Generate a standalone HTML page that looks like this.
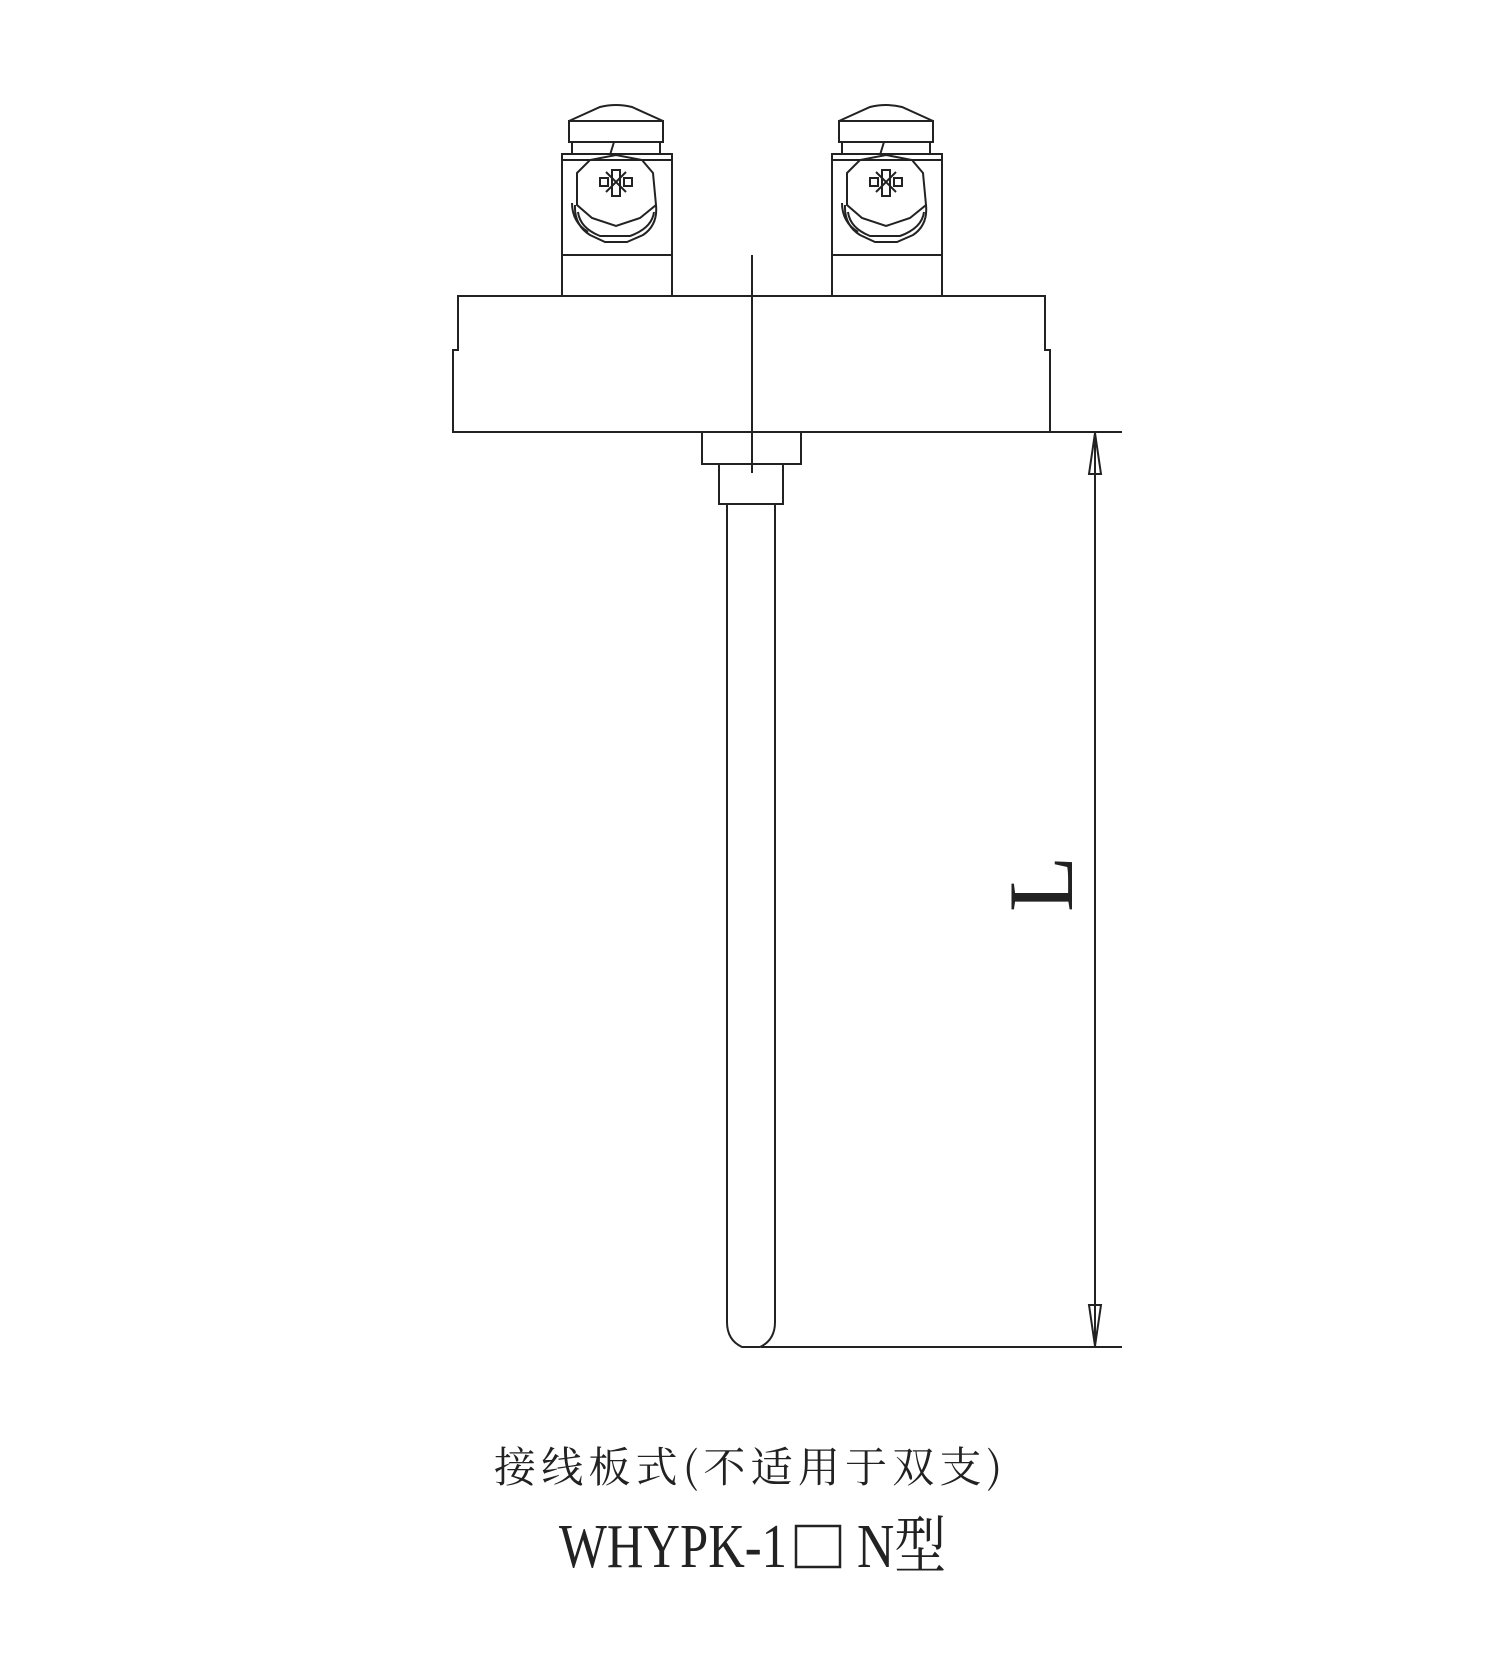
<!DOCTYPE html>
<html><head><meta charset="utf-8"><style>
html,body{margin:0;padding:0;background:#fff;}
.c{position:relative;width:1500px;height:1666px;overflow:hidden;}
svg{position:absolute;left:0;top:0;}
</style></head><body><div class="c">
<svg width="1500" height="1666" viewBox="0 0 1500 1666" fill="none" stroke="#222" stroke-width="2">
<defs>
<g id="term">
<path d="M569 121 L600 107 Q616 103 632 107 L663 121 Z"/>
<rect x="569" y="121" width="94" height="21"/>
<rect x="572" y="142" width="88" height="12"/>
<path d="M614 142 L610 155"/>
<rect x="562" y="154" width="110" height="142"/>
<line x1="562" y1="160" x2="672" y2="160"/>
<line x1="562" y1="255" x2="672" y2="255"/>
<path d="M577 173 L590 160 L616 155 L642 160 L653 173 L656 205 L640 218 L616 226 L592 218 L577 205 Z"/>
<path d="M575 205 Q574 225 590 235 L605 242 L627 242 L643 235 Q658 225 656 205"/>
<path d="M578 212 Q580 228 600 236 L630 236 Q652 228 654 212"/>
<path d="M572 203 Q572 222 588 232"/>
<rect x="612" y="170" width="8" height="26"/>
<rect x="600" y="178" width="8" height="8"/>
<rect x="624" y="178" width="8" height="8"/>
<path d="M606 172 L616 182 L626 172 M606 192 L616 182 L626 192"/>
</g>
</defs>
<use href="#term"/>
<use href="#term" transform="translate(270,0)"/>
<path d="M458 296 L1045 296 L1045 350 L1050 350 L1050 432 L453 432 L453 350 L458 350 Z" fill="#fff"/>
<rect x="702" y="432" width="99" height="32"/>
<rect x="719" y="464" width="64" height="40"/>
<path d="M727 504 L727 1322 Q727 1340 742 1347 L760 1347 Q775 1340 775 1322 L775 504"/>
<line x1="752" y1="255" x2="752" y2="473"/>
<line x1="1050" y1="432" x2="1122" y2="432"/>
<line x1="761" y1="1347" x2="1122" y2="1347"/>
<line x1="1095" y1="432" x2="1095" y2="1347"/>
<path d="M1095 433 L1101 474 L1089 474 Z"/>
<path d="M1095 1346 L1101 1305 L1089 1305 Z"/>
<text x="0" y="0" transform="translate(1072,912) rotate(-90)" fill="#222" stroke="none" font-family="Liberation Serif, serif" font-size="92">L</text>
<rect x="796" y="1526" width="44" height="41" stroke-width="2.5"/>
<g fill="#222" stroke="none">
<text x="494" y="1482" font-family="Noto Serif CJK SC, serif" font-size="42" textLength="508" lengthAdjust="spacing">接线板式(不适用于双支)</text>
<text x="559" y="1567" font-family="Liberation Serif, serif" font-size="62" textLength="228" lengthAdjust="spacingAndGlyphs">WHYPK-1</text>
<text x="857" y="1567" font-family="Liberation Serif, Noto Serif CJK SC, serif" font-size="62" textLength="89" lengthAdjust="spacingAndGlyphs">N型</text>
</g>
</svg>
</div></body></html>
